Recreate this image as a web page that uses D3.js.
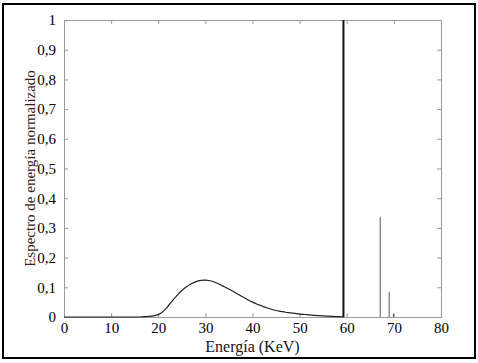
<!DOCTYPE html>
<html>
<head>
<meta charset="utf-8">
<script src="https://cdn.jsdelivr.net/npm/d3@7"></script>
<style>
  body { margin: 0; background: #fff; }
</style>
</head>
<body>
<svg id="chart" width="478" height="363"></svg>
<script>
// continuous part of the spectrum (keV, normalized value)
var energies = [0, 15, 16, 17, 18, 19, 20, 21, 22, 23, 24, 25, 26, 27, 28, 29, 30, 31, 32, 33, 34, 35, 36, 37, 38, 39,
    40, 41, 42, 43, 44, 45, 46, 47, 48, 49, 50, 51, 52, 53, 54, 55, 56, 57, 58, 59, 59.3];
var spectrum = [0, 0, 0, 0.001, 0.002, 0.004, 0.008, 0.018, 0.035, 0.055, 0.073, 0.089, 0.102, 0.112, 0.119, 0.123,
    0.124, 0.122, 0.117, 0.110, 0.102, 0.094, 0.085, 0.076, 0.067, 0.058,
    0.050, 0.043, 0.037, 0.031, 0.026, 0.022, 0.019, 0.016, 0.014, 0.012, 0.010, 0.0085, 0.007, 0.0057, 0.0046,
    0.0036, 0.0027, 0.0019, 0.0012, 0.0006, 0];
// discrete lines
var peakEnergies = [59.3, 67.1, 69.0, 69.9];
var peakHeights = [1, 0.336, 0.085, 0.011];

var xTicks = [0, 10, 20, 30, 40, 50, 60, 70, 80];
var yTicks = [0, 0.1, 0.2, 0.3, 0.4, 0.5, 0.6, 0.7, 0.8, 0.9, 1];

var svg = d3.select("#chart");
const margins = {top: 20, right: 37, bottom: 46, left: 64};
const width = 478, height = 363;
const serif = "Tinos, 'Noto Serif', 'Liberation Serif', 'DejaVu Serif', 'Times New Roman', serif";

svg.append("rect")
    .attr("x", 3).attr("y", 4)
    .attr("width", 472).attr("height", 354)
    .attr("fill", "none").attr("stroke", "black").attr("stroke-width", 2);

var x = d3.scaleLinear().domain([0, 80]).range([margins.left, width - margins.right]);
var y = d3.scaleLinear().domain([0, 1]).range([height - margins.bottom, margins.top]);

var fmt = d => d3.format("~g")(d).replace(".", ",");

var frame = "#9a9a9a";

// axes with inward ticks on all sides
svg.append("g").attr("transform", "translate(0," + y(0) + ")")
    .call(d3.axisBottom(x).tickValues(xTicks).tickSize(-4).tickPadding(8).tickFormat(fmt))
    .call(g => g.selectAll("text").attr("font-size", 15).attr("font-family", serif).attr("fill", "black").attr("dy", "0.5em"));
svg.append("g").attr("transform", "translate(0," + y(1) + ")")
    .call(d3.axisTop(x).tickValues(xTicks).tickSize(-4).tickFormat(""));
svg.append("g").attr("transform", "translate(" + x(0) + ",0)")
    .call(d3.axisLeft(y).tickValues(yTicks).tickSize(-4).tickPadding(8).tickFormat(fmt))
    .call(g => g.selectAll("text").attr("font-size", 15).attr("font-family", serif).attr("fill", "black"));
svg.append("g").attr("transform", "translate(" + x(80) + ",0)")
    .call(d3.axisRight(y).tickValues(yTicks).tickSize(-4).tickFormat(""));

svg.selectAll(".domain").attr("stroke", frame);
svg.selectAll(".tick line").attr("stroke", frame);

// spectrum curve
var points = energies.map((e, i) => [x(e), y(spectrum[i])]);
svg.append("path")
    .attr("d", d3.line().curve(d3.curveMonotoneX)(points))
    .attr("fill", "none").attr("stroke", "#222").attr("stroke-width", 1.2);

// characteristic lines
svg.selectAll("line.peak")
    .data(peakEnergies).enter()
    .append("line").attr("class", "peak")
    .attr("x1", d => x(d)).attr("x2", d => x(d))
    .attr("y1", y(0))
    .attr("y2", (d, i) => y(peakHeights[i]))
    .attr("stroke", (d, i) => i == 0 ? "#111" : "#555")
    .attr("stroke-width", (d, i) => i == 0 ? 2 : 1);

// axis titles
svg.append("text")
    .attr("x", (x(0) + x(80)) / 2).attr("y", 352)
    .attr("text-anchor", "middle").attr("font-size", 16).attr("font-family", serif).attr("fill", "#1a1414")
    .text("Energía (KeV)");
svg.append("text")
    .attr("transform", "translate(35," + ((y(0) + y(1)) / 2) + ") rotate(-90)")
    .attr("text-anchor", "middle").attr("font-size", 15).attr("font-family", serif).attr("fill", "#3a1a1a")
    .text("Espectro de energía normalizado");
</script>
</body>
</html>
